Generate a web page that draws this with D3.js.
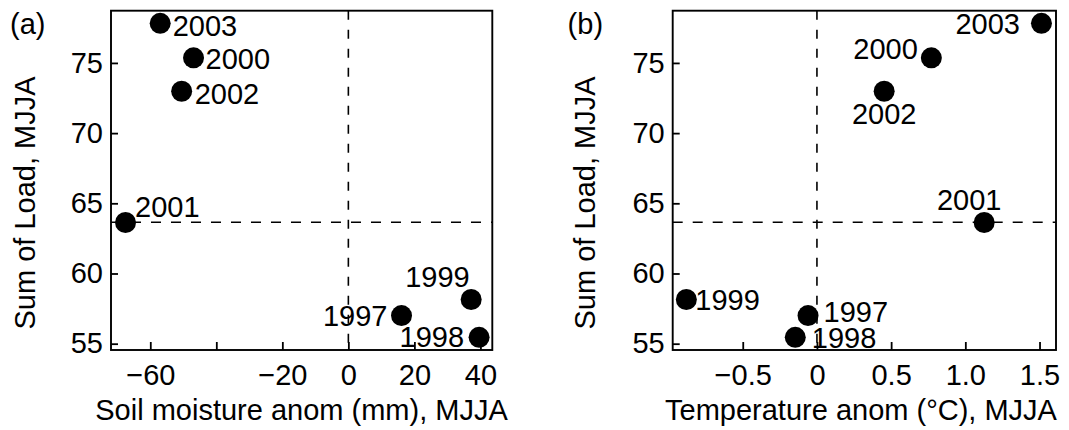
<!DOCTYPE html>
<html>
<head>
<meta charset="utf-8">
<script src="https://cdn.jsdelivr.net/npm/d3@7"></script>
<style>
body { margin: 0; background: #fff; }
text { font-family: "Liberation Sans", Arial, sans-serif; fill: #000; }
</style>
</head>
<body>
<svg width="1069" height="430"></svg>
<script>
// values
var years = [1997, 1998, 1999, 2000, 2001, 2002, 2003];
var load = [57.0, 55.45, 58.15, 75.36, 63.63, 72.98, 77.82];
var soilAnom = [16.1, 39.6, 37.2, -46.9, -67.5, -50.5, -57.0];
var tempAnom = [-0.06, -0.146, -0.88, 0.771, 1.127, 0.453, 1.513];
var loadMedian = 63.65;

var loadTicks = [55, 60, 65, 70, 75];
var soilTicks = [-60, -40, -20, 0, 20, 40];
var soilTickLabels = ["−60", "", "−20", "0", "20", "40"];
var tempTicks = [-0.5, 0, 0.5, 1.0, 1.5];
var tempTickLabels = ["−0.5", "0", "0.5", "1.0", "1.5"];

// where each year label sits relative to its dot
var labelsA = {
    1997: ["end", -14, 10.6], 1998: ["end", -15, 9.4], 1999: ["end", -1.5, -12],
    2000: ["start", 12, 11], 2001: ["start", 9.5, -5.6], 2002: ["start", 13, 12.7],
    2003: ["start", 12.5, 12.3]
};
var labelsB = {
    1997: ["start", 15.5, 6.6], 1998: ["start", 16.5, 10.7], 1999: ["start", 9, 10.6],
    2000: ["end", -13.5, 1], 2001: ["middle", -15, -12.6], 2002: ["middle", 0, 33],
    2003: ["end", -21.5, 10.7]
};

const fontSize = 29;
var svg = d3.select("svg");

drawPanel({
    left: 111, top: 10.7, width: 381.3, height: 339.3,
    xs: soilAnom, xDomain: [-71.9, 43.6], xTicks: soilTicks, xTickLabels: soilTickLabels,
    xTitle: "Soil moisture anom (mm), MJJA", xTitleX: 301.5,
    yTitleX: 35, tag: "(a)", tagX: 10, labels: labelsA
});
drawPanel({
    left: 672.7, top: 10.7, width: 383.3, height: 339.3,
    xs: tempAnom, xDomain: [-0.972, 1.611], xTicks: tempTicks, xTickLabels: tempTickLabels,
    xTitle: "Temperature anom (°C), MJJA", xTitleX: 861,
    yTitleX: 595, tag: "(b)", tagX: 567.6, labels: labelsB
});

function drawPanel(p) {
    var x = d3.scaleLinear().domain(p.xDomain).range([p.left, p.left + p.width]);
    var y = d3.scaleLinear().domain([54.55, 78.72]).range([p.top + p.height, p.top]);

    var g = svg.append("g");

    // reference lines: zero anomaly and median load
    g.append("line")
        .attr("x1", x(0)).attr("x2", x(0))
        .attr("y1", p.top).attr("y2", p.top + p.height)
        .attr("stroke", "#000").attr("stroke-width", 1.6)
        .attr("stroke-dasharray", "9,10");
    g.append("line")
        .attr("x1", p.left).attr("x2", p.left + p.width)
        .attr("y1", y(loadMedian)).attr("y2", y(loadMedian))
        .attr("stroke", "#000").attr("stroke-width", 1.6)
        .attr("stroke-dasharray", "10,10");

    var yAxis = g.append("g")
        .attr("transform", "translate(" + p.left + ",0)")
        .call(d3.axisLeft(y).tickValues(loadTicks).tickSizeInner(-7).tickSizeOuter(0).tickPadding(8));
    var xAxis = g.append("g")
        .attr("transform", "translate(0," + (p.top + p.height) + ")")
        .call(d3.axisBottom(x).tickValues(p.xTicks).tickSizeInner(-8).tickSizeOuter(0).tickPadding(14)
            .tickFormat((d, i) => p.xTickLabels[i]));

    for (var ax of [xAxis, yAxis]) {
        ax.attr("font-size", fontSize).attr("font-family", null);
        ax.select(".domain").remove();
        ax.selectAll("line").attr("stroke-width", 1.8);
    }

    // frame
    g.append("rect")
        .attr("x", p.left).attr("y", p.top)
        .attr("width", p.width).attr("height", p.height)
        .attr("fill", "none").attr("stroke", "#000").attr("stroke-width", 1.9);

    var pts = years.map((yr, i) => ({ year: yr, x: p.xs[i], y: load[i] }));

    g.selectAll("circle")
        .data(pts)
        .enter()
        .append("circle")
        .attr("cx", d => x(d.x))
        .attr("cy", d => y(d.y))
        .attr("r", 10.5)
        .attr("fill", "#000");

    g.selectAll(".yearText")
        .data(pts)
        .enter()
        .append("text")
        .classed("yearText", true)
        .attr("font-size", fontSize)
        .attr("text-anchor", d => p.labels[d.year][0])
        .attr("x", d => x(d.x) + p.labels[d.year][1])
        .attr("y", d => y(d.y) + p.labels[d.year][2])
        .text(d => d.year);

    g.append("text")
        .attr("font-size", fontSize)
        .attr("text-anchor", "middle")
        .attr("x", p.xTitleX)
        .attr("y", 420)
        .text(p.xTitle);

    g.append("text")
        .attr("font-size", fontSize)
        .attr("text-anchor", "middle")
        .attr("transform", "translate(" + p.yTitleX + ",203) rotate(-90)")
        .text("Sum of Load, MJJA");

    g.append("text")
        .attr("font-size", fontSize)
        .attr("x", p.tagX)
        .attr("y", 34)
        .text(p.tag);
}
</script>
</body>
</html>
